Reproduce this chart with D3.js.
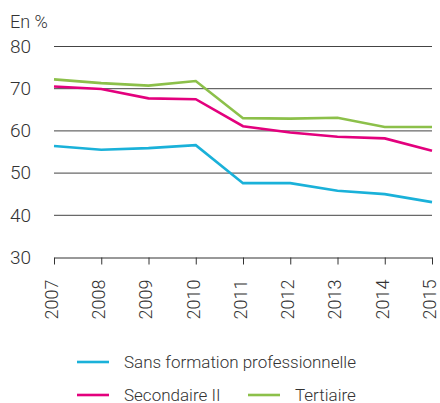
<!DOCTYPE html>
<html>
<head>
<meta charset="utf-8">
<script src="https://cdn.jsdelivr.net/npm/d3@7"></script>
<style>
  body { margin: 0; background: #fff; }
  text { font-family: Roboto, sans-serif; font-weight: 300; fill: #333; }
</style>
</head>
<body>
<div id="chart"></div>
<script>
const years = [2007, 2008, 2009, 2010, 2011, 2012, 2013, 2014, 2015];
const sansFormation = [56.3, 55.4, 55.8, 56.5, 47.5, 47.5, 45.7, 44.9, 43.0];
const secondaire = [70.4, 69.8, 67.6, 67.4, 61.0, 59.5, 58.5, 58.1, 55.2];
const tertiaire = [72.1, 71.2, 70.6, 71.7, 62.9, 62.8, 63.0, 60.8, 60.8];
const yTicks = [30, 40, 50, 60, 70, 80];

const series = [
  {name: "Sans formation professionnelle", values: sansFormation, color: "#1ab1d9"},
  {name: "Secondaire II", values: secondaire, color: "#e3007d"},
  {name: "Tertiaire", values: tertiaire, color: "#8cc04a"}
];

const width = 440, height = 403;
const svg = d3.select("#chart").append("svg")
    .attr("width", width).attr("height", height);

const x = d3.scalePoint().domain(years).range([54, 432]);
const y = d3.scaleLinear().domain([30, 80]).range([257, 46]);

// grid lines
svg.append("g")
  .selectAll("line")
  .data(yTicks.filter(d => d > 30))
  .join("line")
    .attr("x1", 54).attr("x2", 432)
    .attr("y1", d => y(d) + 0.5).attr("y2", d => y(d) + 0.5)
    .attr("stroke", "#444").attr("stroke-width", 1);

// y labels
svg.append("g")
  .selectAll("text")
  .data(yTicks)
  .join("text")
    .attr("x", 10).attr("y", d => y(d))
    .attr("dy", "0.36em")
    .style("font-size", "19px")
    .text(d => d);

svg.append("text")
    .attr("x", 10).attr("y", 28)
    .style("font-size", "18px")
    .text("En %");

// x axis
const xAxis = svg.append("g")
    .attr("transform", `translate(0,${y(30) + 0.5})`)
    .call(d3.axisBottom(x).tickSize(7).tickSizeOuter(0).tickPadding(8));
xAxis.select(".domain").attr("stroke", "#333");
xAxis.selectAll(".tick line").attr("stroke", "#333");
xAxis.selectAll("text")
    .attr("transform", "rotate(-90)")
    .attr("x", -22).attr("y", -3).attr("dy", "0.35em")
    .style("text-anchor", "end")
    .style("font-size", "18px")
    .style("font-family", "Roboto, sans-serif")
    .style("font-weight", 300)
    .attr("fill", "#333");

// lines
const line = d3.line()
    .x((d, i) => x(years[i]))
    .y(d => y(d));

svg.append("g")
  .selectAll("path")
  .data(series)
  .join("path")
    .attr("d", d => line(d.values))
    .attr("fill", "none")
    .attr("stroke", d => d.color)
    .attr("stroke-width", 2.6);

// legend
const legendPos = [
  {x: 77, y: 362},
  {x: 77, y: 395},
  {x: 248, y: 395}
];
const legend = svg.append("g")
  .selectAll("g")
  .data(series)
  .join("g")
    .attr("transform", (d, i) => `translate(${legendPos[i].x},${legendPos[i].y})`);
legend.append("line")
    .attr("x1", 0).attr("x2", 32)
    .attr("stroke", d => d.color).attr("stroke-width", 2.6);
legend.append("text")
    .attr("x", 47).attr("dy", "0.34em")
    .style("font-size", "17px")
    .text(d => d.name);
</script>
</body>
</html>
